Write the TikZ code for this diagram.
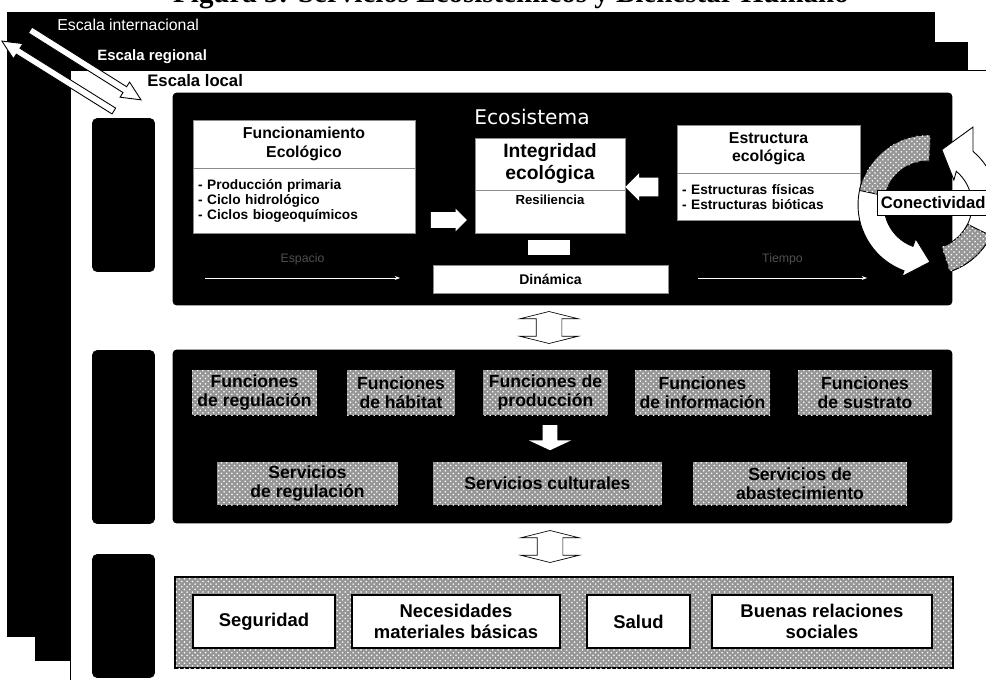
\documentclass[tikz,border=0pt]{standalone}
\usepackage{fontspec}
\setmainfont{Liberation Sans}
\newfontfamily\capfont{Liberation Serif}
\newfontfamily\widefont{DejaVu Sans}
\usetikzlibrary{shapes.arrows, arrows.meta, positioning, patterns, calc}
\definecolor{InkBlack}{RGB}{0,0,0}
\definecolor{PaperWhite}{RGB}{255,255,255}
\definecolor{StippleGray}{RGB}{150,150,150}
\definecolor{FaintGray}{RGB}{80,80,80}
\definecolor{EdgeGray}{RGB}{140,140,140}
\tikzset{
  band/.style={fill=InkBlack},
  tab/.style={rectangle, rounded corners=3pt, fill=InkBlack, inner sep=0pt},
  frame/.style={rectangle, rounded corners=2pt, fill=InkBlack, draw=InkBlack,
    inner sep=0pt},
  stipple/.style={fill=StippleGray,
    postaction={pattern=crosshatch dots, pattern color=PaperWhite}},
  card/.style={rectangle, fill=PaperWhite, draw=EdgeGray, line width=0.3pt,
    inner sep=0pt, text=InkBlack},
  head/.style={card, align=center, font=\bfseries\fontsize{9}{10.5}\selectfont},
  items/.style={card, align=left, inner xsep=0.1cm,
    font=\bfseries\fontsize{7.8}{8.6}\selectfont},
  func/.style={rectangle, stipple, inner sep=0pt, minimum height=0.9cm,
    align=center, font=\bfseries\fontsize{10}{10.5}\selectfont},
  serv/.style={func, minimum height=0.86cm},
  need/.style={rectangle, fill=PaperWhite, draw=InkBlack, line width=1.3pt,
    inner sep=0pt, minimum height=1.06cm, align=center,
    font=\bfseries\fontsize{10.5}{12}\selectfont},
  blockarr/.style={single arrow, fill=PaperWhite, inner xsep=0pt},
  linkarr/.style={double arrow, fill=PaperWhite, draw=InkBlack, line width=0.4pt,
    inner xsep=0pt, inner ysep=0.25cm, double arrow tip angle=152,
    minimum height=0.64cm, double arrow head extend=0.33cm, rotate=90},
  scalearr/.style={single arrow, fill=PaperWhite, draw=InkBlack, line width=0.5pt,
    inner xsep=0pt, inner ysep=0.06cm, single arrow head extend=0.11cm,
    single arrow tip angle=50},
  scalelab/.style={anchor=west, inner sep=0pt},
  axis/.style={-{Stealth[length=3pt]}, PaperWhite, line width=0.5pt},
  axislab/.style={text=FaintGray, font=\fontsize{7}{8}\selectfont},
  ring/.style={fill=PaperWhite, draw=InkBlack, line width=0.5pt},
}

\begin{document}
\begin{tikzpicture}[x=0.02cm, y=-0.02cm]
  \useasboundingbox (0,0) rectangle (986,679);
  % caption, cut by the top edge
  \node[font=\capfont\bfseries\fontsize{16.5}{18}\selectfont, anchor=base, inner sep=0pt]
    (title) at (511,3) {Figura 3: Servicios Ecosistémicos y Bienestar Humano};

  % scale layers
  \fill[band] (7,12) rectangle (935,637);
  \fill[band] (35,42) rectangle (968,661);
  \filldraw[fill=PaperWhite, draw=InkBlack, line width=0.5pt] (70,70) rectangle (1000,700);
  \node[scalelab, text=PaperWhite, font=\fontsize{9}{10}\selectfont]
    (intl) at (57,25) {Escala internacional};
  \node[scalelab, text=PaperWhite, font=\bfseries\fontsize{8.5}{10}\selectfont]
    (regl) at (97,57) {Escala regional};
  \node[scalelab, font=\bfseries\fontsize{9.5}{11}\selectfont]
    (locl) at (147,81) {Escala local};
  \node[scalearr, minimum height=2.62cm, rotate=-32.2] (zoomIn) at (82.5,63) {};
  \node[scalearr, minimum height=2.64cm, rotate=148] (zoomOut) at (61,78) {};

  % side tabs
  \node[tab, minimum width=1.26cm, minimum height=3.08cm] (tabEco) at (123.5,195) {};
  \node[tab, minimum width=1.26cm, minimum height=3.48cm] (tabFun) at (123.5,437) {};
  \node[tab, minimum width=1.26cm, minimum height=2.48cm] (tabBie) at (123.5,616) {};

  % ecosystem
  \node[frame, minimum width=15.58cm, minimum height=4.24cm] (eco) at (562.5,199) {};
  \node[text=PaperWhite, font=\widefont\fontsize{11.5}{13}\selectfont]
    (ecoTitle) at (532,117) {Ecosistema};
  \node[head, minimum width=4.44cm, minimum height=0.96cm]
    (funcHead) at (304,144) {Funcionamiento\\Ecológico};
  \node[items, below=0pt of funcHead, minimum width=4.44cm, minimum height=1.3cm,
    text width=4.24cm] (funcList)
    {- Producción primaria\\- Ciclo hidrológico\\- Ciclos biogeoquímicos};
  \node[head, minimum width=3cm, minimum height=1.04cm,
    font=\bfseries\fontsize{11}{12.5}\selectfont]
    (integHead) at (550,164) {Integridad\\ecológica};
  \node[card, below=0pt of integHead, minimum width=3cm, minimum height=0.86cm,
    text depth=0.5cm, font=\bfseries\fontsize{7.5}{9}\selectfont] (integRes) {Resiliencia};
  \node[head, minimum width=3.66cm, minimum height=0.96cm]
    (estHead) at (768.5,149) {Estructura\\ecológica};
  \node[items, below=0pt of estHead, minimum width=3.66cm, minimum height=0.94cm,
    text width=3.46cm] (estList) {- Estructuras físicas\\- Estructuras bióticas};
  \node[blockarr, minimum height=0.72cm, inner ysep=0.15cm,
    single arrow head extend=0.07cm] (funcToInteg) at (445,220) {};
  \node[blockarr, minimum height=0.66cm, inner ysep=0.18cm,
    single arrow head extend=0.09cm, rotate=180] (estToInteg) at (646.5,187) {};
  \node[card, draw=none, minimum width=0.84cm, minimum height=0.3cm]
    (integDin) at (549,247.5) {};
  \node[card, minimum width=4.7cm, minimum height=0.56cm,
    font=\bfseries\fontsize{8}{9}\selectfont] (din) at (550.5,279) {Dinámica};
  \coordinate (spaceA) at (205,278);
  \coordinate (spaceB) at (400,278);
  \coordinate (timeA) at (698,278);
  \coordinate (timeB) at (867,278);
  \draw[axis] (spaceA) -- (spaceB) node[axislab, midway, above=4pt] (spaceLab) {Espacio};
  \draw[axis] (timeA) -- (timeB) node[axislab, midway, above=4pt] (timeLab) {Tiempo};

  % connectivity cycle
  \coordinate (cyc) at (928,205);
  \draw[ring] ($(cyc)+(-88:70)$) arc[start angle=-88, end angle=-250, radius=70]
    -- ($(cyc)+(-250:76)$) -- ($(cyc)+(-272:57)$) -- ($(cyc)+(-250:36)$)
    -- ($(cyc)+(-250:44)$) arc[start angle=-250, end angle=-88, radius=44] -- cycle;
  \draw[ring, stipple] ($(cyc)+(-88:70)$) arc[start angle=-88, end angle=-168, radius=70]
    -- ($(cyc)+(-168:44)$) arc[start angle=-168, end angle=-88, radius=44] -- cycle;
  \draw[ring] ($(cyc)+(-288:70)$) arc[start angle=-288, end angle=-410, radius=70]
    -- ($(cyc)+(-420:90)$) -- ($(cyc)+(-436:57)$) -- ($(cyc)+(-404:36)$)
    -- ($(cyc)+(-410:44)$) arc[start angle=-410, end angle=-288, radius=44] -- cycle;
  \draw[ring, stipple] ($(cyc)+(-288:70)$) arc[start angle=-288, end angle=-334, radius=70]
    -- ($(cyc)+(-334:44)$) arc[start angle=-334, end angle=-288, radius=44] -- cycle;
  \node[card, draw=InkBlack, anchor=west, minimum height=0.5cm, inner xsep=2pt,
    font=\bfseries\fontsize{9.5}{11}\selectfont] (con) at (877,203) {Conectividad};

  % functions and services
  \node[linkarr] (ecoToMid) at (549,327.5) {};
  \node[frame, minimum width=15.58cm, minimum height=3.46cm] (mid) at (562.5,436.5) {};
  \node[func, minimum width=2.5cm] (fReg) at (254.5,392.5) {Funciones\\de regulación};
  \node[func, minimum width=2.16cm] (fHab) at (401,392.5) {Funciones\\de hábitat};
  \node[func, minimum width=2.5cm] (fProd) at (545.5,392.5) {Funciones de\\producción};
  \node[func, minimum width=2.7cm] (fInf) at (702.5,392.5) {Funciones\\de información};
  \node[func, minimum width=2.68cm] (fSus) at (865,392.5) {Funciones\\de sustrato};
  \node[blockarr, minimum height=0.5cm, inner ysep=0.14cm,
    single arrow head extend=0.27cm, single arrow tip angle=130, rotate=-90]
    (funToServ) at (550,436) {};
  \node[serv, minimum width=3.62cm] (sReg) at (307.5,483.5) {Servicios\\de regulación};
  \node[serv, minimum width=4.58cm] (sCul) at (547.5,483.5) {Servicios culturales};
  \node[serv, minimum width=4.28cm] (sAba) at (800,483.5) {Servicios de\\abastecimiento};

  % well-being
  \node[linkarr] (midToWell) at (550,546.5) {};
  \node[rectangle, stipple, draw=InkBlack, line width=0.8pt, minimum width=15.56cm,
    minimum height=1.82cm] (well) at (564,622.5) {};
  \node[need, minimum width=2.84cm] (bSeg) at (264,621.5) {Seguridad};
  \node[need, minimum width=4.16cm] (bNec) at (456,621.5) {Necesidades\\materiales básicas};
  \node[need, minimum width=2.06cm] (bSal) at (638.5,621.5) {Salud};
  \node[need, minimum width=4.4cm] (bRel) at (822,621.5) {Buenas relaciones\\sociales};
\end{tikzpicture}
\end{document}
